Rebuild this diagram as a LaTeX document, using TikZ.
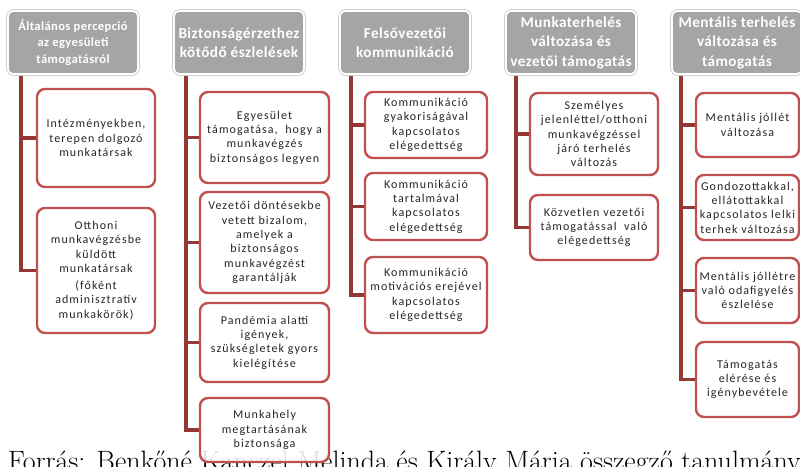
\documentclass[tikz,border=0pt]{standalone}
\usepackage{fontspec}
\usetikzlibrary{backgrounds}
\newfontfamily\boxfont[LetterSpace=9]{Carlito}
\newfontfamily\hdrfont[LetterSpace=3]{Carlito}
\definecolor{hdrgray}{RGB}{165,165,165}
\definecolor{boxred}{RGB}{192,80,77}
\definecolor{linered}{RGB}{149,55,53}
\begin{document}
\begin{tikzpicture}[x=1pt,y=-1pt,
  hdr/.style={rectangle, rounded corners=5pt, fill=hdrgray, draw=white, line width=1.8pt,
    preaction={draw=black!18, line width=3.6pt}, text=white,
    font=\hdrfont\bfseries\fontsize{15.2}{19.5}\selectfont, align=center, inner sep=0pt,
    minimum width=130pt, minimum height=63pt},
  hdrsmall/.style={font=\hdrfont\bfseries\fontsize{12.6}{16.5}\selectfont},
  kid/.style={rectangle, rounded corners=8pt, fill=white, fill opacity=0.88, text opacity=1,
    draw=boxred, draw opacity=1, line width=2.4pt, text=black!85,
    font=\boxfont\fontsize{12}{14.3}\selectfont, align=center, inner sep=0pt},
  conn/.style={draw=linered, line width=3.5pt}]
\useasboundingbox (0,0) rectangle (800,466);

% headers
\node[hdr, hdrsmall] (h1) at (73,42.5) {Általános percepció\\az egyesületi\\támogatásról};
\node[hdr] (h2) at (239,42.5) {Biztonságérzethez\\kötődő észlelések};
\node[hdr] (h3) at (405,42.5) {Felsővezetői\\kommunikáció};
\node[hdr] (h4) at (571,42.5) {Munkaterhelés\\változása és\\vezetői támogatás};
\node[hdr] (h5) at (737,42.5) {Mentális terhelés\\változása és\\támogatás};

% column 1
\node[kid, minimum width=118pt, minimum height=98pt] (c1a) at (96,138) {Intézményekben,\\terepen dolgozó\\munkatársak};
\node[kid, minimum width=118pt, minimum height=125pt] (c1b) at (96,270.5) {Otthoni\\munkavégzésbe\\küldött\\munkatársak\\[3pt](főként\\adminisztratív\\munkakörök)};

% column 2
\node[kid, minimum width=129pt, minimum height=91pt] (c2a) at (264.5,137.5) {Egyesület\\támogatása,\ \ hogy a\\munkavégzés\\biztonságos legyen};
\node[kid, minimum width=129pt, minimum height=101pt] (c2b) at (264.5,242.5) {Vezetői döntésekbe\\vetett bizalom,\\amelyek a\\biztonságos\\munkavégzést\\garantálják};
\node[kid, minimum width=129pt, minimum height=79pt] (c2c) at (264.5,342.5) {Pandémia alatti\\igények,\\szükségletek gyors\\kielégítése};
\node[kid, minimum width=129pt, minimum height=64pt] (c2d) at (264.5,430) {Munkahely\\megtartásának\\biztonsága};

% column 3
\node[kid, minimum width=122pt, minimum height=66pt] (c3a) at (426,125) {Kommunikáció\\gyakoriságával\\kapcsolatos\\elégedettség};
\node[kid, minimum width=122pt, minimum height=67pt] (c3b) at (426,206.5) {Kommunikáció\\tartalmával\\kapcsolatos\\elégedettség};
\node[kid, minimum width=122pt, minimum height=76pt] (c3c) at (426,295) {Kommunikáció\\motivációs erejével\\kapcsolatos\\elégedettség};

% column 4
\node[kid, minimum width=128pt, minimum height=82pt] (c4a) at (594,134) {Személyes\\jelenléttel/otthoni\\munkavégzéssel\\járó terhelés\\változás};
\node[kid, minimum width=128pt, minimum height=65pt] (c4b) at (594,227.5) {Közvetlen vezetői\\támogatással\ \ való\\elégedettség};

% column 5
\node[kid, minimum width=103pt, minimum height=64pt] (c5a) at (747.5,125) {Mentális jóllét\\változása};
\node[kid, minimum width=103pt, minimum height=65pt] (c5b) at (747.5,207.5) {Gondozottakkal,\\ellátottakkal\\kapcsolatos lelki\\terhek változása};
\node[kid, minimum width=103pt, minimum height=65pt] (c5c) at (747.5,290.5) {Mentális jóllétre\\való odafigyelés\\észlelése};
\node[kid, minimum width=103pt, minimum height=75pt] (c5d) at (747.5,379.5) {Támogatás\\elérése és\\igénybevétele};

\begin{pgfonlayer}{background}
\fill[white] (0,0) rectangle (800,466);
\node[anchor=base west, inner sep=0pt, font=\fontsize{28}{33}\selectfont] (src) at (8,470.5)
  {Forrás: Benkőné Kanczel Melinda és Király Mária összegző tanulmánya};
\draw[conn] ([xshift=14pt]h1.south west) |- (c1a.west);
\draw[conn] ([xshift=14pt]h1.south west) |- (c1b.west);
\draw[conn] ([xshift=13pt]h2.south west) |- (c2a.west);
\draw[conn] ([xshift=13pt]h2.south west) |- (c2b.west);
\draw[conn] ([xshift=13pt]h2.south west) |- (c2c.west);
\draw[conn] ([xshift=13pt]h2.south west) |- (c2d.west);
\draw[conn] ([xshift=12pt]h3.south west) |- (c3a.west);
\draw[conn] ([xshift=12pt]h3.south west) |- (c3b.west);
\draw[conn] ([xshift=12pt]h3.south west) |- (c3c.west);
\draw[conn] ([xshift=11pt]h4.south west) |- (c4a.west);
\draw[conn] ([xshift=11pt]h4.south west) |- (c4b.west);
\draw[conn] ([xshift=10pt]h5.south west) |- (c5a.west);
\draw[conn] ([xshift=10pt]h5.south west) |- (c5b.west);
\draw[conn] ([xshift=10pt]h5.south west) |- (c5c.west);
\draw[conn] ([xshift=10pt]h5.south west) |- (c5d.west);
\end{pgfonlayer}
\end{tikzpicture}
\end{document}
